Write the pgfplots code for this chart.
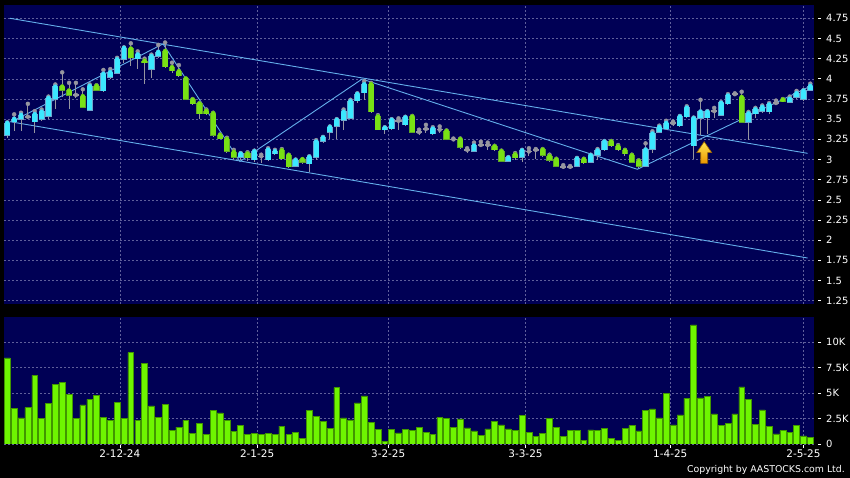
\documentclass[border=0pt]{standalone}
\usepackage{pgfplots}
\pgfplotsset{compat=1.18}
\usepackage{pgfplotstable}
\usepackage{fontspec}
\setmainfont{DejaVu Sans}
\definecolor{navy}{RGB}{0,0,85}
\definecolor{gridc}{RGB}{95,95,155}
\definecolor{upfill}{RGB}{60,232,255}
\definecolor{upedge}{RGB}{110,165,205}
\definecolor{dnfill}{RGB}{120,225,20}
\definecolor{dnedge}{RGB}{95,165,40}
\definecolor{wick}{RGB}{150,150,160}
\definecolor{trend}{RGB}{100,175,235}
\definecolor{volfill}{RGB}{110,245,0}
\definecolor{voledge}{RGB}{65,150,0}
\definecolor{arrowtop}{RGB}{255,230,80}
\definecolor{arrowbot}{RGB}{235,150,0}
\definecolor{arrowedge}{RGB}{150,95,0}

\pgfplotstableread{
i O H L C
0 3.30 3.46 3.27 3.45
1 3.47 3.56 3.35 3.50
2 3.50 3.58 3.35 3.55
3 3.53 3.69 3.50 3.53
4 3.47 3.60 3.33 3.56
5 3.50 3.62 3.48 3.59
6 3.54 3.78 3.50 3.76
7 3.75 3.93 3.63 3.90
8 3.90 4.08 3.78 3.86
9 3.85 3.95 3.62 3.80
10 3.80 3.95 3.76 3.80
11 3.78 3.87 3.64 3.65
12 3.61 3.93 3.60 3.91
13 3.91 3.92 3.85 3.86
14 3.85 4.11 3.84 4.06
15 4.02 4.12 4.00 4.08
16 4.07 4.26 4.06 4.24
17 4.24 4.39 4.20 4.38
18 4.37 4.44 4.16 4.26
19 4.25 4.34 4.12 4.30
20 4.22 4.25 3.94 4.20
21 4.12 4.30 4.01 4.28
22 4.28 4.42 4.26 4.33
23 4.34 4.45 4.14 4.15
24 4.14 4.20 4.07 4.10
25 4.09 4.17 4.02 4.04
26 4.00 4.00 3.74 3.75
27 3.74 3.75 3.68 3.69
28 3.69 3.70 3.50 3.57
29 3.60 3.62 3.55 3.57
30 3.57 3.58 3.28 3.30
31 3.30 3.31 3.25 3.26
32 3.25 3.27 3.08 3.10
33 3.09 3.12 3.00 3.03
34 3.03 3.08 3.00 3.07
35 3.07 3.09 2.98 3.02
36 3.00 3.11 2.97 3.10
37 3.04 3.06 2.96 3.04
38 3.00 3.14 2.98 3.12
39 3.07 3.12 3.05 3.10
40 3.11 3.13 3.00 3.01
41 3.05 3.06 2.90 2.91
42 2.92 3.00 2.91 2.99
43 3.00 3.00 2.95 2.97
44 2.95 3.04 2.85 3.03
45 3.03 3.24 3.00 3.22
46 3.23 3.28 3.20 3.27
47 3.34 3.41 3.25 3.40
48 3.41 3.50 3.25 3.49
49 3.49 3.62 3.37 3.59
50 3.51 3.74 3.50 3.72
51 3.73 3.82 3.70 3.81
52 3.83 3.97 3.74 3.93
53 3.93 3.95 3.58 3.59
54 3.53 3.55 3.36 3.37
55 3.37 3.40 3.32 3.39
56 3.38 3.50 3.37 3.49
57 3.48 3.51 3.37 3.48
58 3.43 3.53 3.42 3.52
59 3.53 3.54 3.33 3.34
60 3.34 3.37 3.31 3.34
61 3.38 3.43 3.33 3.38
62 3.32 3.40 3.31 3.38
63 3.37 3.41 3.33 3.37
64 3.35 3.36 3.24 3.25
65 3.25 3.26 3.24 3.25
66 3.25 3.26 3.13 3.15
67 3.12 3.14 3.08 3.12
68 3.10 3.21 3.09 3.17
69 3.18 3.22 3.16 3.18
70 3.18 3.21 3.12 3.18
71 3.16 3.17 3.10 3.12
72 3.10 3.11 2.97 2.98
73 2.98 3.03 2.97 3.02
74 3.06 3.08 3.00 3.02
75 3.03 3.12 2.97 3.11
76 3.10 3.14 3.04 3.10
77 3.12 3.13 3.01 3.12
78 3.12 3.13 3.03 3.05
79 3.04 3.06 2.97 2.99
80 3.00 3.01 2.91 2.92
81 2.91 2.93 2.88 2.91
82 2.91 2.92 2.88 2.91
83 2.92 3.02 2.91 3.01
84 3.00 3.01 2.95 2.96
85 2.97 3.06 2.96 3.05
86 3.05 3.13 3.00 3.11
87 3.12 3.23 3.11 3.22
88 3.22 3.23 3.16 3.17
89 3.16 3.18 3.10 3.12
90 3.11 3.12 3.04 3.07
91 3.05 3.06 2.96 2.97
92 2.98 2.99 2.90 2.92
93 2.92 3.20 2.91 3.12
94 3.13 3.35 3.08 3.32
95 3.34 3.42 3.33 3.40
96 3.38 3.48 3.36 3.45
97 3.45 3.47 3.42 3.45
98 3.42 3.54 3.40 3.53
99 3.53 3.66 3.52 3.64
100 3.17 3.52 3.01 3.51
101 3.51 3.74 3.30 3.59
102 3.52 3.60 3.32 3.59
103 3.60 3.64 3.51 3.60
104 3.55 3.71 3.54 3.70
105 3.69 3.81 3.68 3.79
106 3.81 3.82 3.80 3.81
107 3.77 3.84 3.45 3.46
108 3.46 3.59 3.24 3.57
109 3.57 3.64 3.52 3.62
110 3.60 3.67 3.58 3.65
111 3.59 3.70 3.56 3.68
112 3.70 3.73 3.67 3.70
113 3.74 3.75 3.71 3.72
114 3.71 3.78 3.70 3.75
115 3.77 3.85 3.75 3.82
116 3.75 3.86 3.72 3.85
117 3.86 3.94 3.85 3.91
}\prices

\pgfplotstableread{
i v
0 8.44
1 3.47
2 2.56
3 3.57
4 6.72
5 2.50
6 3.99
7 5.84
8 6.04
9 4.87
10 2.50
11 3.83
12 4.38
13 4.74
14 2.60
15 2.31
16 4.09
17 2.50
18 8.96
19 2.34
20 7.89
21 3.73
22 2.63
23 3.90
24 1.33
25 1.66
26 2.31
27 1.07
28 2.05
29 0.91
30 3.31
31 3.05
32 2.31
33 1.27
34 1.79
35 0.97
36 1.04
37 0.94
38 1.07
39 0.94
40 1.75
41 0.91
42 1.14
43 0.52
44 3.28
45 2.69
46 2.21
47 1.56
48 5.52
49 2.56
50 2.37
51 4.03
52 4.71
53 2.14
54 1.46
55 0.26
56 1.46
57 1.10
58 1.46
59 1.36
60 1.66
61 1.11
62 0.95
63 2.62
64 2.52
65 1.61
66 2.46
67 1.57
68 1.28
69 0.82
70 1.48
71 2.23
72 1.87
73 1.48
74 1.31
75 2.79
76 1.11
77 0.72
78 1.05
79 2.52
80 1.64
81 0.75
82 1.34
83 1.34
84 0.39
85 1.38
86 1.34
87 1.54
88 0.52
89 0.39
90 1.54
91 1.80
92 1.28
93 3.31
94 3.44
95 2.56
96 4.98
97 1.87
98 2.85
99 4.46
100 11.67
101 4.52
102 4.69
103 2.95
104 1.80
105 2.03
106 2.95
107 5.61
108 4.39
109 1.90
110 3.34
111 1.70
112 0.98
113 1.31
114 1.15
115 1.84
116 0.79
117 0.66
}\volumes

\pgfplotsset{
  panel/.style={
    scale only axis, width=810bp,
    xmin=-0.48, xmax=117.54,
    axis background/.style={fill=navy},
    axis line style={draw=none},
    grid=major,
    major grid style={gridc, dash pattern=on 2bp off 2bp, line width=0.6bp},
    xtick={16.4,36.4,55.5,75.5,96.6,116.0},
    ytick pos=right, yticklabel pos=right,
    tick align=outside,
    major tick length=3bp,
    ytick style={white, line width=0.7bp, xshift=4bp},
    yticklabel style={text=white, font=\fontsize{10}{12}\selectfont, anchor=west, inner sep=0pt, xshift=9bp},
  },
  candle/.style={only marks, mark=none, error bars/.cd, y dir=minus, y explicit, error mark=none},
}

\begin{document}
\begin{tikzpicture}[x=1bp,y=1bp]
\fill[black] (0,0) rectangle (850,478);
\path[use as bounding box] (0,0) rectangle (850,478);

% ---------- price panel ----------
\begin{axis}[panel,
  at={(4bp,174bp)}, anchor=south west, height=299bp,
  ymin=1.21, ymax=4.915,
  ytick={1.25,1.5,1.75,2,2.25,2.5,2.75,3,3.25,3.5,3.75,4,4.25,4.5,4.75},
  yticklabels={1.25,1.5,1.75,2,2.25,2.5,2.75,3,3.25,3.5,3.75,4,4.25,4.5,4.75},
  xticklabels={}, xtick style={draw=none},
]
% trend lines
\addplot[trend, line width=0.9bp] coordinates {(0.39,4.75) (116.6,3.077)};
\addplot[trend, line width=0.9bp] coordinates {(0.39,3.469) (116.6,1.780)};
\addplot[trend, line width=0.9bp] coordinates {(0.64,3.469) (22.69,4.433) (33.9,2.976) (51.7,3.997) (91.8,2.879) (116.96,3.907)};

% wicks
\addplot[wick, candle, error bar style={line width=1bp, wick}]
  table[x=i, y=H, y error expr=\thisrow{H}-\thisrow{L}] {\prices};

% up bodies
\addplot[upedge, y filter/.expression={\thisrow{C}>\thisrow{O} ? y : nan},
  candle, error bar style={line width=6.2bp, upedge}]
  table[x=i, y expr=\thisrow{C}+0.007, y error expr=\thisrow{C}-\thisrow{O}+0.014] {\prices};
\addplot[upfill, y filter/.expression={\thisrow{C}>\thisrow{O} ? y : nan},
  candle, error bar style={line width=4.9bp, upfill}]
  table[x=i, y=C, y error expr=\thisrow{C}-\thisrow{O}] {\prices};

% down bodies
\addplot[dnedge, y filter/.expression={\thisrow{C}<\thisrow{O} ? y : nan},
  candle, error bar style={line width=6.2bp, dnedge}]
  table[x=i, y expr=\thisrow{O}+0.007, y error expr=\thisrow{O}-\thisrow{C}+0.014] {\prices};
\addplot[dnfill, y filter/.expression={\thisrow{C}<\thisrow{O} ? y : nan},
  candle, error bar style={line width=4.9bp, dnfill}]
  table[x=i, y=O, y error expr=\thisrow{O}-\thisrow{C}] {\prices};

% doji
\addplot[wick, only marks, mark=none, y filter/.expression={\thisrow{C}==\thisrow{O} ? y : nan},
  error bars/.cd, x dir=both, x fixed=0.45, error mark=none,
  error bar style={line width=1.6bp, wick}]
  table[x=i, y=O] {\prices};

% arrow
\addplot[top color=arrowtop, bottom color=arrowbot, draw=arrowedge, line width=0.6bp]
  coordinates {(101.03,2.953) (102.05,2.953) (102.05,3.085) (102.64,3.085) (101.54,3.221) (100.45,3.085) (101.03,3.085)} -- cycle;
\end{axis}

% ---------- volume panel ----------
\begin{axis}[panel,
  at={(4bp,34bp)}, anchor=south west, height=127bp,
  ymin=0, ymax=12.45,
  ytick={0,2.5,5,7.5,10},
  yticklabels={0,2.5K,5K,7.5K,10K},
  xtick pos=bottom,
  xticklabels={2-12-24,2-1-25,3-2-25,3-3-25,1-4-25,2-5-25},
  xtick style={white, line width=0.7bp, yshift=-1bp},
  xticklabel style={text=white, font=\fontsize{10.5}{12}\selectfont, inner sep=0pt, yshift=-3bp},
]
\addplot[ybar, bar width=5.8bp, fill=volfill, draw=voledge, line width=0.5bp] table[x=i, y=v] {\volumes};
\end{axis}

\node[anchor=south east, text=white, font=\fontsize{9.4}{11}\selectfont, inner sep=0pt] at (845,3) {Copyright by AASTOCKS.com Ltd.};
\end{tikzpicture}
\end{document}
